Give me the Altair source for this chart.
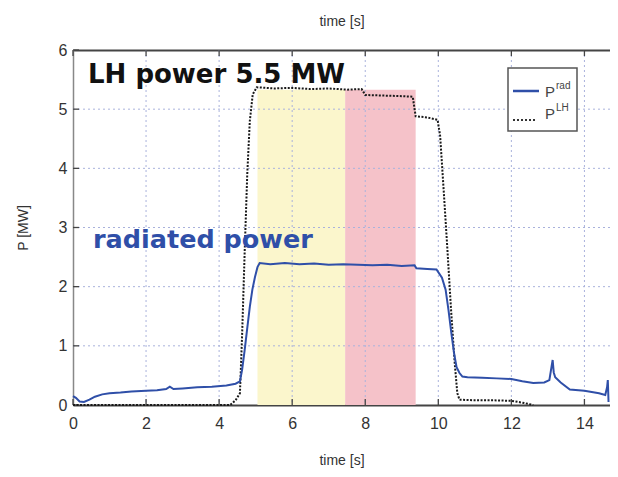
import altair as alt
import pandas as pd

# ---- data ----
rad_t = [0.00, 0.08, 0.18, 0.30, 0.45, 0.60, 0.80, 1.00, 1.30, 1.60, 2.00, 2.30, 2.55, 2.65, 2.75,
         3.00, 3.40, 3.80, 4.20, 4.45, 4.57, 4.63, 4.70, 4.77, 4.84, 4.91, 4.98, 5.05, 5.11, 5.40,
         5.80, 6.20, 6.60, 7.00, 7.40, 7.80, 8.20, 8.60, 9.00, 9.35, 9.40, 9.70, 9.95, 10.10, 10.20,
         10.28, 10.36, 10.43, 10.50, 10.58, 10.66, 10.80, 11.20, 11.60, 12.00, 12.30, 12.60, 12.90,
         13.04, 13.10, 13.13, 13.16, 13.20, 13.35, 13.60, 14.00, 14.40, 14.57, 14.62, 14.64, 14.66]
rad_p = [0.15, 0.12, 0.06, 0.05, 0.09, 0.14, 0.18, 0.20, 0.21, 0.23, 0.24, 0.25, 0.27, 0.31, 0.27,
         0.28, 0.30, 0.31, 0.33, 0.36, 0.40, 0.60, 0.93, 1.30, 1.66, 1.95, 2.16, 2.33, 2.40, 2.38,
         2.40, 2.38, 2.39, 2.37, 2.38, 2.37, 2.36, 2.37, 2.35, 2.36, 2.31, 2.30, 2.29, 2.15, 1.95,
         1.60, 1.20, 0.88, 0.64, 0.54, 0.48, 0.47, 0.46, 0.45, 0.44, 0.40, 0.37, 0.38,
         0.42, 0.65, 0.76, 0.55, 0.47, 0.38, 0.26, 0.24, 0.20, 0.17, 0.30, 0.42, 0.05]

lh_t = [0.00, 4.30, 4.45, 4.57, 4.63, 4.70, 4.77, 4.84, 4.92, 5.03, 5.50, 6.00, 6.50, 7.00, 7.50,
        7.90, 8.00, 8.50, 9.00, 9.30, 9.38, 9.70, 9.98, 10.05, 10.15, 10.25, 10.35, 10.45, 10.52,
        10.58, 11.00, 11.50, 12.00, 12.30, 12.60]
lh_p = [0.00, 0.00, 0.08, 0.20, 1.20, 2.60, 3.90, 4.80, 5.25, 5.37, 5.35, 5.36, 5.34, 5.35, 5.33,
        5.34, 5.24, 5.23, 5.22, 5.21, 4.88, 4.86, 4.82, 4.55, 3.60, 2.62, 1.60, 0.70, 0.20,
        0.09, 0.08, 0.08, 0.07, 0.04, 0.00]

shade_start = [5.05, 7.45]
shade_end = [7.45, 9.38]
shade_top = [5.33, 5.33]
shade_color = ["#fbf6cc", "#f5c2c9"]

x_ticks = [0, 2, 4, 6, 8, 10, 12, 14]
y_ticks = [0, 1, 2, 3, 4, 5, 6]

title_text = ["LH power 5.5 MW"]
rad_text = ["radiated power"]
legend_main = ["P", "P"]
legend_sup = ["rad", "LH"]

# ---- geometry ----
W, H = 537, 355
XDOM = [0, 14.7]
YDOM = [0, 6]
FONT = "Liberation Sans"
BLUE = "#2f4fa8"

xs = alt.Scale(domain=XDOM, nice=False, zero=False)
ys = alt.Scale(domain=YDOM, nice=False)

rad_df = pd.DataFrame({"t": rad_t, "p": rad_p})
lh_df = pd.DataFrame({"t": lh_t, "p": lh_p})
shade_df = pd.DataFrame({"s": shade_start, "e": shade_end, "top": shade_top,
                         "bottom": [0] * len(shade_start), "c": shade_color})
xt_df = pd.DataFrame({"t": x_ticks})
yt_df = pd.DataFrame({"v": y_ticks})
xg_df = pd.DataFrame({"t": [v for v in x_ticks if v > 0]})
yg_df = pd.DataFrame({"v": [v for v in y_ticks if 0 < v < 6]})

bottom_axis = alt.Axis(values=x_ticks, grid=False, ticks=False, labelPadding=10, labelFontSize=16,
                       labelColor="#333", labelFont=FONT, labelFlush=False, domainColor="#444",
                       domainWidth=2, title="time [s]", titleFontSize=14, titleFont=FONT,
                       titleFontWeight="normal", titleColor="#333", titlePadding=22)
left_axis = alt.Axis(values=y_ticks, grid=False, ticks=False, labelPadding=6, labelFontSize=16,
                     labelColor="#333", labelFont=FONT, labelFlush=False, domainColor="#888",
                     domainWidth=1.5, title="P [MW]", titleFontSize=14, titleFont=FONT,
                     titleFontWeight="normal", titleColor="#333", titlePadding=28)
top_axis = alt.Axis(orient="top", labels=False, ticks=False, grid=False, domainColor="#444",
                    domainWidth=2, title="time [s]", titleFontSize=14, titleFont=FONT,
                    titleFontWeight="normal", titleColor="#333", titlePadding=22)

shade = alt.Chart(shade_df).mark_rect(opacity=1).encode(
    x=alt.X("s:Q", scale=xs, axis=bottom_axis),
    x2="e:Q",
    y=alt.Y("top:Q", scale=ys, axis=left_axis),
    y2="bottom:Q",
    color=alt.Color("c:N", scale=None),
)

vgrid = alt.Chart(xg_df).mark_rule(color="#a9b2dc", strokeDash=[2, 3], strokeWidth=1).encode(
    x=alt.X("t:Q", scale=xs, axis=None), y=alt.value(0), y2=alt.value(H))
hgrid = alt.Chart(yg_df).mark_rule(color="#a9b2dc", strokeDash=[2, 3], strokeWidth=1).encode(
    y=alt.Y("v:Q", scale=ys, axis=None), x=alt.value(0), x2=alt.value(W))

top_ticks = alt.Chart(xt_df).mark_rule(color="#444", strokeWidth=1.3).encode(
    x=alt.X("t:Q", scale=xs, axis=top_axis), y=alt.value(0), y2=alt.value(6))
bot_ticks = alt.Chart(xt_df).mark_rule(color="#444", strokeWidth=1.3).encode(
    x=alt.X("t:Q", scale=xs, axis=None), y=alt.value(H), y2=alt.value(H - 6))
left_ticks = alt.Chart(yt_df).mark_rule(color="#444", strokeWidth=1.3).encode(
    y=alt.Y("v:Q", scale=ys, axis=None), x=alt.value(0), x2=alt.value(6))

lh_line = alt.Chart(lh_df).mark_line(color="#1a1a1a", strokeWidth=2, strokeDash=[2, 1.5]).encode(
    x=alt.X("t:Q", scale=xs, axis=None), y=alt.Y("p:Q", scale=ys, axis=None))
rad_line = alt.Chart(rad_df).mark_line(color=BLUE, strokeWidth=2).encode(
    x=alt.X("t:Q", scale=xs, axis=None), y=alt.Y("p:Q", scale=ys, axis=None))

lh_label = alt.Chart(pd.DataFrame({"s": title_text})).mark_text(
    align="left", baseline="alphabetic", font="DejaVu Sans", fontWeight="bold", fontSize=26,
    color="#111").encode(text="s:N", x=alt.value(15), y=alt.value(33))
rad_label = alt.Chart(pd.DataFrame({"s": rad_text})).mark_text(
    align="left", baseline="alphabetic", font="DejaVu Sans", fontWeight="bold", fontSize=25.5,
    color=BLUE).encode(text="s:N", x=alt.value(20), y=alt.value(198))

# legend box
leg_df = pd.DataFrame({"m": legend_main, "s": legend_sup})
leg_box = alt.Chart(pd.DataFrame({"k": [0]})).mark_rect(
    fill="white", stroke="#555", strokeWidth=1.5).encode(
    x=alt.value(435), x2=alt.value(504), y=alt.value(18), y2=alt.value(81))
leg_l1 = alt.Chart(pd.DataFrame({"k": [0]})).mark_rule(color=BLUE, strokeWidth=2.5).encode(
    x=alt.value(440), x2=alt.value(466), y=alt.value(41))
leg_l2 = alt.Chart(pd.DataFrame({"k": [0]})).mark_rule(
    color="#333", strokeWidth=2, strokeDash=[2, 2]).encode(
    x=alt.value(440), x2=alt.value(462), y=alt.value(70))
leg_p1 = alt.Chart(leg_df.iloc[[0]]).mark_text(
    align="left", baseline="alphabetic", font=FONT, fontSize=15, color="#444").encode(
    text="m:N", x=alt.value(472), y=alt.value(47))
leg_s1 = alt.Chart(leg_df.iloc[[0]]).mark_text(
    align="left", baseline="alphabetic", font=FONT, fontSize=10, color="#444").encode(
    text="s:N", x=alt.value(483), y=alt.value(39))
leg_p2 = alt.Chart(leg_df.iloc[[1]]).mark_text(
    align="left", baseline="alphabetic", font=FONT, fontSize=15, color="#444").encode(
    text="m:N", x=alt.value(472), y=alt.value(69))
leg_s2 = alt.Chart(leg_df.iloc[[1]]).mark_text(
    align="left", baseline="alphabetic", font=FONT, fontSize=10, color="#444").encode(
    text="s:N", x=alt.value(483), y=alt.value(61))

chart = alt.layer(
    shade, vgrid, hgrid, top_ticks, bot_ticks, left_ticks, lh_line, rad_line,
    lh_label, rad_label, leg_box, leg_l1, leg_l2, leg_p1, leg_s1, leg_p2, leg_s2,
).resolve_axis(x="independent", y="independent").properties(
    width=W, height=H,
    autosize=alt.AutoSizeParams(type="none"),
    padding={"left": 65, "top": 42, "right": 0, "bottom": 64},
    background="white",
).configure_view(stroke=None)

chart.save("out.html", embed_options={"renderer": "svg", "actions": False})
